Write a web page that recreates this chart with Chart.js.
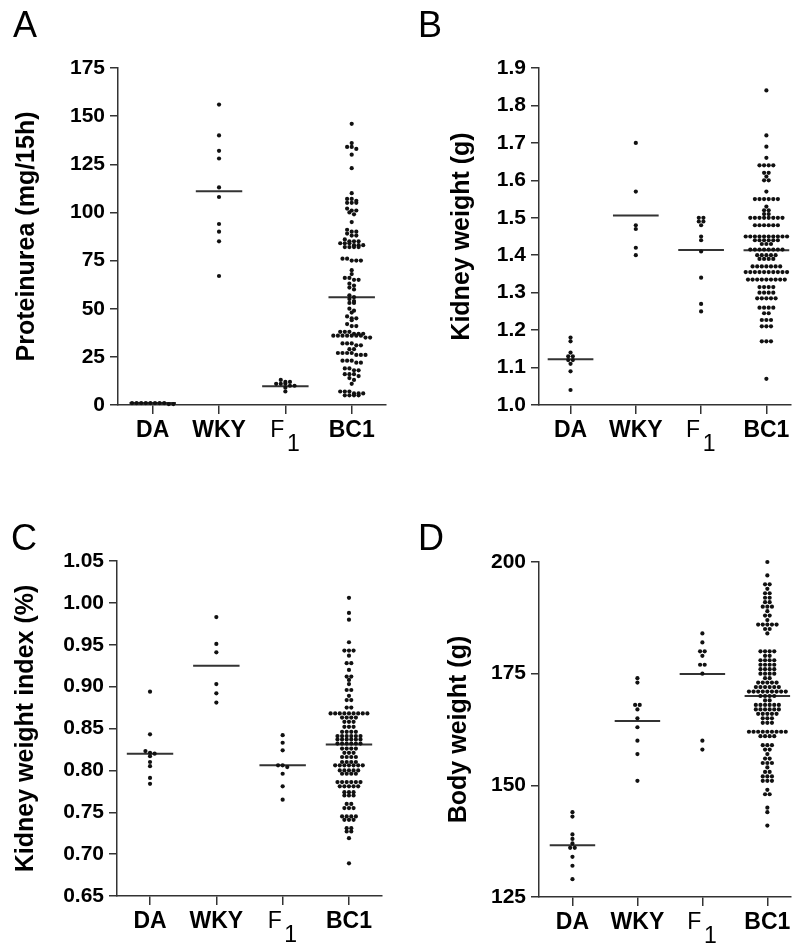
<!DOCTYPE html>
<html>
<head>
<meta charset="utf-8">
<script src="https://cdn.jsdelivr.net/npm/chart.js@4"></script>
<style>
  html, body { margin: 0; padding: 0; background: #fff; width: 795px; height: 943px; overflow: hidden; }
  canvas { position: absolute; }
  .letter { position: absolute; z-index: 5; font: 36px/36px "Liberation Sans", Arial, sans-serif; color: #000; }
</style>
</head>
<body>
<canvas id="chartA" width="397" height="470" style="left:0;top:0"></canvas>
<canvas id="chartB" width="398" height="470" style="left:397px;top:0"></canvas>
<canvas id="chartC" width="397" height="473" style="left:0;top:470px"></canvas>
<canvas id="chartD" width="398" height="473" style="left:397px;top:470px"></canvas>
<div class="letter" style="left:13px;top:7px">A</div>
<div class="letter" style="left:418px;top:7px">B</div>
<div class="letter" style="left:11px;top:520px">C</div>
<div class="letter" style="left:418px;top:520px">D</div>
<script>
const groupLabels = ["DA", "WKY", "F1", "BC1"];

// A - proteinurea (mg/15h)
const protDA = [1, 1, 1, 1, 1, 0.5, 0.5, 1, 1, 1];
const protWKY = [156, 140, 132, 128, 113, 108, 94, 90, 85, 67];
const protF1 = [13, 12, 12, 11, 11, 11, 10, 10, 9, 7];
const protBC1 = [146, 136, 134, 134, 133, 130, 123, 110, 107, 107, 106, 105, 105, 105,
  102, 101, 101, 100, 99, 95, 91, 90, 90, 89, 88, 88,
  86, 85, 85, 85, 84, 84, 84, 83, 83, 83, 82, 82, 82, 82,
  76, 76, 75, 75, 75, 70, 68, 66, 66, 65, 65, 63, 62, 61, 60, 57, 56, 55,
  54, 53, 53, 50, 49, 48, 46, 45, 45, 44, 42, 41, 41,
  38, 38, 38, 37, 37, 37, 36, 36, 36, 36, 36, 36, 36, 35, 35,
  32, 32, 32, 31, 31, 29, 29, 27, 27, 27, 27, 26, 26, 26, 23, 23, 23, 22, 22,
  19, 19, 18, 18, 16, 16, 16, 15, 14, 13, 11, 7, 7, 7, 6, 6, 6, 5, 5, 5, 5];
const protMedian = [1, 111, 9.7, 56];
const protTicks = [0, 25, 50, 75, 100, 125, 150, 175];

// B - kidney weight (g)
const kwDA = [1.18, 1.17, 1.14, 1.13, 1.13, 1.12, 1.12, 1.11, 1.09, 1.04];
const kwWKY = [1.70, 1.57, 1.48, 1.47, 1.42, 1.40];
const kwF1 = [1.50, 1.50, 1.49, 1.49, 1.48, 1.45, 1.44, 1.41, 1.34, 1.27, 1.25];
const kwBC1 = [1.84, 1.72, 1.69, 1.66, 1.64, 1.64, 1.64, 1.64, 1.62, 1.62, 1.61, 1.60, 1.60,
  1.57, 1.55, 1.55, 1.55, 1.55, 1.55, 1.55, 1.53, 1.52, 1.52, 1.51, 1.51,
  1.50, 1.50, 1.50, 1.50, 1.50, 1.50, 1.50, 1.50, 1.48, 1.48, 1.48, 1.48, 1.48, 1.48,
  1.45, 1.45, 1.45, 1.45, 1.45, 1.45, 1.45, 1.45, 1.45, 1.45, 1.44, 1.44, 1.44, 1.44, 1.44, 1.44,
  1.43, 1.43, 1.43, 1.415, 1.415, 1.415, 1.415, 1.415, 1.415, 1.415, 1.415,
  1.40, 1.40, 1.40, 1.40, 1.40, 1.39, 1.39, 1.39, 1.39, 1.37, 1.37, 1.37, 1.37, 1.37, 1.37, 1.37,
  1.355, 1.355, 1.355, 1.355, 1.355, 1.355, 1.355, 1.355, 1.355, 1.355,
  1.335, 1.335, 1.335, 1.335, 1.335, 1.335, 1.335, 1.335, 1.335,
  1.315, 1.315, 1.315, 1.315, 1.30, 1.30, 1.30, 1.30, 1.285, 1.285, 1.285, 1.285, 1.285,
  1.26, 1.26, 1.26, 1.26, 1.245, 1.245, 1.227, 1.227, 1.227, 1.21, 1.21, 1.21,
  1.17, 1.17, 1.17, 1.07];
const kwMedian = [1.122, 1.506, 1.414, 1.413];
const kwTicks = [1.0, 1.1, 1.2, 1.3, 1.4, 1.5, 1.6, 1.7, 1.8, 1.9];

// C - kidney weight index (%)
const kwiDA = [0.894, 0.843, 0.823, 0.821, 0.820, 0.817, 0.810, 0.805, 0.791, 0.784];
const kwiWKY = [0.983, 0.951, 0.941, 0.903, 0.892, 0.881];
const kwiF1 = [0.842, 0.833, 0.824, 0.806, 0.806, 0.804, 0.796, 0.781, 0.765];
const kwiBC1 = [1.006, 0.988, 0.980, 0.953, 0.943, 0.943, 0.943, 0.937, 0.928, 0.928, 0.920,
  0.912, 0.912, 0.908, 0.903, 0.896, 0.896, 0.889, 0.884, 0.884, 0.875, 0.875,
  0.868, 0.868, 0.868, 0.868, 0.868, 0.868, 0.868, 0.868, 0.868,
  0.863, 0.863, 0.863, 0.863, 0.858, 0.858, 0.858, 0.852, 0.852, 0.852, 0.846, 0.846, 0.846, 0.846,
  0.841, 0.841, 0.841, 0.841, 0.841, 0.841, 0.837, 0.837, 0.837, 0.837, 0.837, 0.837,
  0.832, 0.832, 0.832, 0.832, 0.832, 0.832, 0.826, 0.826, 0.826, 0.826, 0.821, 0.821, 0.821,
  0.816, 0.816, 0.816, 0.816, 0.810, 0.810, 0.810, 0.810,
  0.806, 0.806, 0.806, 0.806, 0.806, 0.806, 0.806, 0.800, 0.800, 0.800, 0.800, 0.800,
  0.796, 0.796, 0.796, 0.796, 0.786, 0.786, 0.786, 0.786, 0.786, 0.786,
  0.781, 0.781, 0.781, 0.781, 0.781, 0.774, 0.774, 0.774, 0.770, 0.770, 0.770,
  0.760, 0.760, 0.755, 0.755, 0.755, 0.745, 0.745, 0.745, 0.745, 0.741, 0.741, 0.741,
  0.731, 0.731, 0.727, 0.727, 0.719, 0.689];
const kwiMedian = [0.820, 0.925, 0.806, 0.831];
const kwiTicks = [0.65, 0.70, 0.75, 0.80, 0.85, 0.90, 0.95, 1.00, 1.05];

// D - body weight (g)
const bwDA = [144, 143, 139, 138, 137, 136, 136, 134, 132, 129];
const bwWKY = [174, 173, 168, 168, 167, 165, 163, 160, 157, 151];
const bwF1 = [184, 182, 180, 180, 179, 177, 177, 175, 160, 158];
const bwBC1 = [200, 197, 195, 195, 194, 193, 193, 192, 192, 191, 191, 190, 190, 190, 189, 188, 188,
  187, 186, 186, 186, 186, 186, 185, 185, 184,
  180, 180, 180, 180, 179, 179, 178, 178, 178, 178, 177, 177, 177, 177, 176, 176, 176, 176,
  175, 175, 175, 175, 174, 174, 173, 173, 173, 173, 173, 172, 172, 172, 172, 172, 172,
  171, 171, 171, 171, 171, 171, 171, 171, 171, 170, 170, 170, 170, 169, 169,
  168, 168, 168, 168, 168, 168, 167, 167, 167, 167, 167, 167, 166, 166, 166, 166, 166,
  165, 165, 165, 164, 164, 164, 162, 162, 162, 162, 162, 162, 162, 162, 162,
  161, 161, 161, 161, 159, 159, 159, 158, 158, 157, 156, 156, 155, 155, 155, 154,
  153, 153, 152, 152, 152, 151, 151, 151, 149, 148, 148, 145, 144, 141];
const bwMedian = [136.6, 164.4, 174.9, 170.0];
const bwTicks = [125, 150, 175, 200];

const FONT = '"Liberation Sans", Arial, Helvetica, sans-serif';
const AXIS = "#333";
const DOT_GAP = 4.6;   // horizontal spacing of dots in a row (px)
const ROW_H = 3.0;     // dots closer than this vertically share a row (px)
Chart.defaults.font.family = FONT;
Chart.defaults.color = "#000";

// Prism-like scatter: nearby values share a row, rows are centred on the column
function rowOffsets(values, yScale) {
  const pys = values.map((v) => yScale.getPixelForValue(v));
  const order = pys.map((_, i) => i).sort((a, b) => pys[a] - pys[b]);
  const offs = new Array(values.length).fill(0);
  let row = [];
  let start = null;
  const flush = () => {
    row.forEach((idx, j) => { offs[idx] = (j - (row.length - 1) / 2) * DOT_GAP; });
    row = [];
  };
  order.forEach((i) => {
    if (start === null || pys[i] - start > ROW_H) {
      flush();
      start = pys[i];
    }
    row.push(i);
  });
  flush();
  return offs;
}

// F with its subscript 1 is drawn by hand
const f1Label = {
  id: "f1Label",
  afterDraw(chart) {
    const x = chart.scales.x.getPixelForValue(groupLabels.indexOf("F1"));
    const y0 = chart.chartArea.bottom;
    const ctx = chart.ctx;
    ctx.save();
    ctx.fillStyle = "#000";
    ctx.textAlign = "center";
    ctx.textBaseline = "alphabetic";
    ctx.font = "23px " + FONT;
    ctx.fillText("F", x - 8, y0 + 32);
    ctx.fillText("1", x + 8, y0 + 46);
    ctx.restore();
  }
};

function makePanel(id, cfg) {
  const datasets = cfg.groups.map((vals, gi) => ({
    type: "scatter",
    data: vals.map((v) => ({ x: gi, y: v })),
    pointRadius: 2.1,
    pointBackgroundColor: "#111",
    pointBorderWidth: 0,
    clip: false
  }));
  cfg.medians.forEach((m, gi) => {
    datasets.push({
      type: "scatter",
      showLine: true,
      data: [{ x: gi - 0.35, y: m }, { x: gi + 0.35, y: m }],
      borderColor: "#333",
      borderWidth: 2,
      pointRadius: 0,
      clip: false
    });
  });

  const chart = new Chart(document.getElementById(id), {
    type: "scatter",
    data: { datasets },
    plugins: [f1Label],
    options: {
      responsive: false,
      animation: false,
      events: [],
      layout: { padding: { top: cfg.top, right: cfg.right, left: 0, bottom: 0 } },
      plugins: { legend: { display: false }, tooltip: { enabled: false } },
      scales: {
        x: {
          type: "linear",
          min: cfg.xMin,
          max: cfg.xMax,
          afterBuildTicks: (s) => { s.ticks = groupLabels.map((_, i) => ({ value: i })); },
          afterFit: (s) => { s.height = cfg.xAxisH; },
          grid: { drawOnChartArea: false, drawTicks: true, tickLength: 9, color: AXIS, lineWidth: 1.5 },
          border: { display: true, color: AXIS, width: 1.5 },
          ticks: {
            padding: 3,
            color: "#000",
            font: { size: 23, weight: "bold" },
            callback: (v, i) => (groupLabels[i] === "F1" ? "" : groupLabels[i])
          }
        },
        y: {
          min: cfg.yMin,
          max: cfg.yMax,
          afterBuildTicks: (s) => { s.ticks = cfg.ticks.map((v) => ({ value: v })); },
          afterFit: (s) => { s.width = cfg.yAxisW; },
          grid: { drawOnChartArea: false, drawTicks: true, tickLength: 8, color: AXIS, lineWidth: 1.5 },
          border: { display: true, color: AXIS, width: 1.5 },
          ticks: {
            padding: 5,
            color: "#000",
            font: { size: 21, weight: "bold" },
            callback: (v) => Number(v).toFixed(cfg.dec)
          },
          title: {
            display: true,
            text: cfg.title,
            color: "#000",
            font: { size: 25, weight: "bold" },
            padding: { top: cfg.titlePad, bottom: 0 }
          }
        }
      }
    }
  });

  const xs = chart.scales.x;
  const unit = xs.getPixelForValue(1) - xs.getPixelForValue(0);
  cfg.groups.forEach((vals, gi) => {
    const offs = rowOffsets(vals, chart.scales.y);
    chart.data.datasets[gi].data = vals.map((v, k) => ({ x: gi + offs[k] / unit, y: v }));
  });
  chart.update("none");
  return chart;
}

makePanel("chartA", {
  groups: [protDA, protWKY, protF1, protBC1], medians: protMedian, ticks: protTicks,
  yMin: 0, yMax: 175, dec: 0, title: "Proteinurea (mg/15h)", titlePad: 12,
  xMin: -0.523, xMax: 3.517, top: 68, right: 11, yAxisW: 118, xAxisH: 65
});
makePanel("chartB", {
  groups: [kwDA, kwWKY, kwF1, kwBC1], medians: kwMedian, ticks: kwTicks,
  yMin: 1.0, yMax: 1.9, dec: 1, title: "Kidney weight (g)", titlePad: 50,
  xMin: -0.483, xMax: 3.377, top: 68, right: 0, yAxisW: 142, xAxisH: 65
});
makePanel("chartC", {
  groups: [kwiDA, kwiWKY, kwiF1, kwiBC1], medians: kwiMedian, ticks: kwiTicks,
  yMin: 0.65, yMax: 1.05, dec: 2, title: "Kidney weight index (%)", titlePad: 11,
  xMin: -0.498, xMax: 3.498, top: 91, right: 15, yAxisW: 117, xAxisH: 47
});
makePanel("chartD", {
  groups: [bwDA, bwWKY, bwF1, bwBC1], medians: bwMedian, ticks: bwTicks,
  yMin: 125, yMax: 200, dec: 0, title: "Body weight (g)", titlePad: 47,
  xMin: -0.515, xMax: 3.364, top: 92, right: 0, yAxisW: 142, xAxisH: 46
});
</script>
</body>
</html>
